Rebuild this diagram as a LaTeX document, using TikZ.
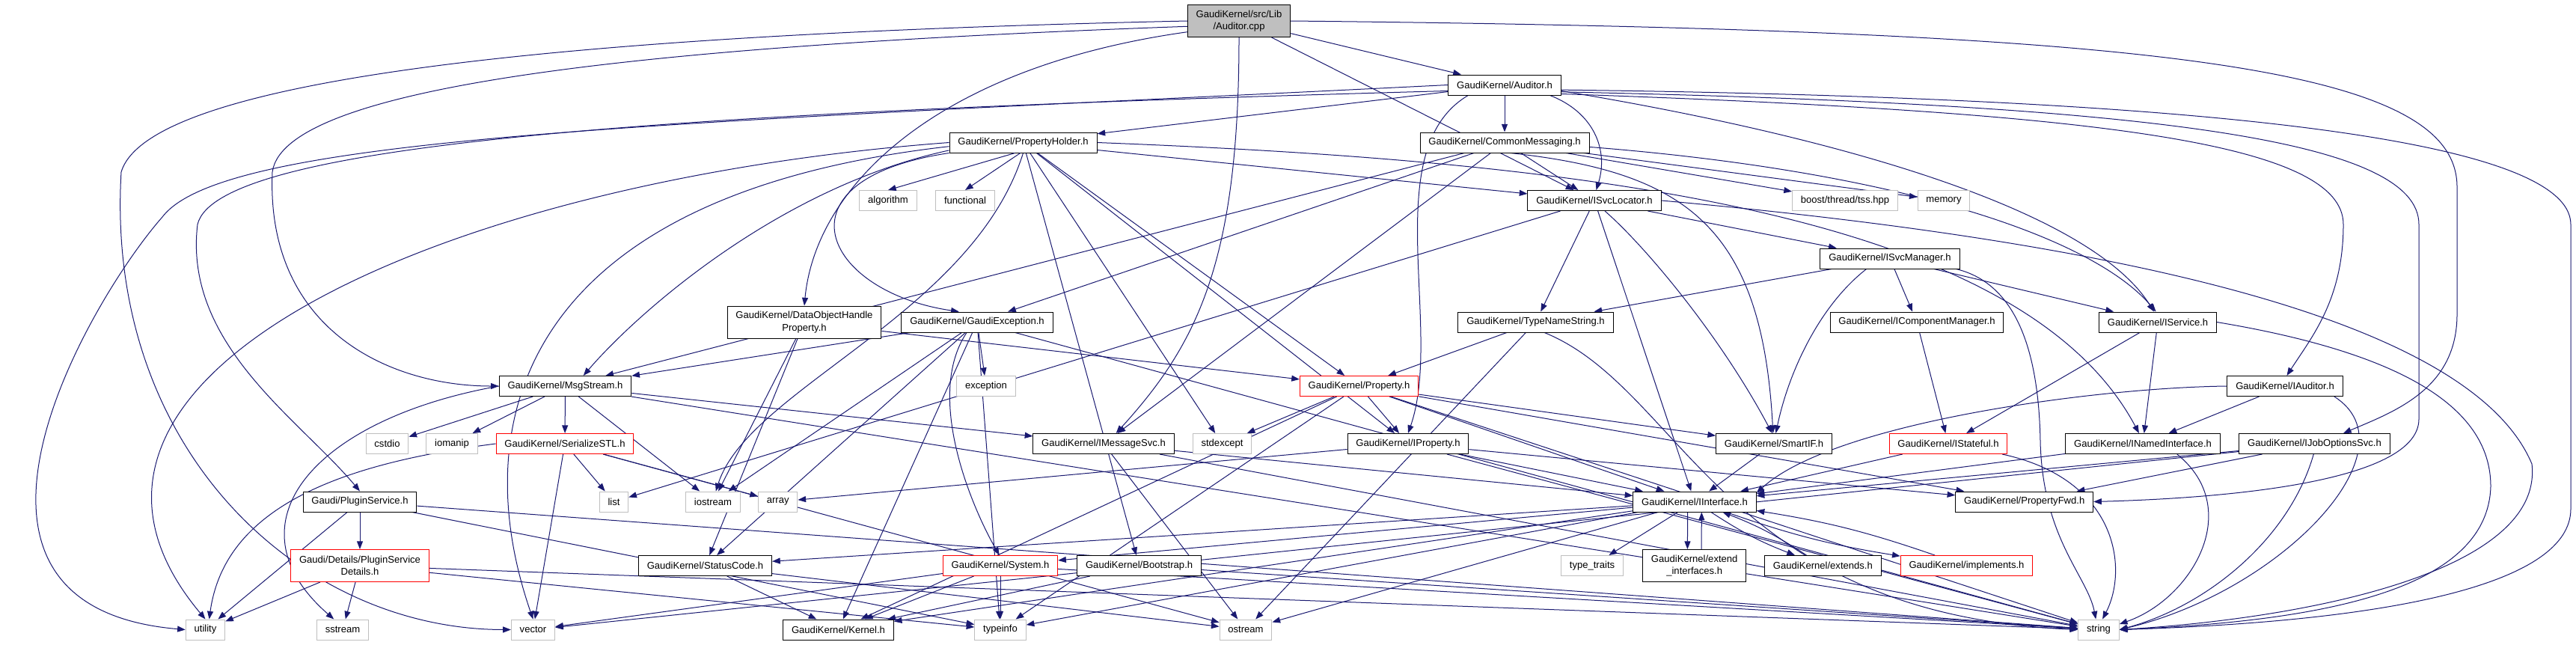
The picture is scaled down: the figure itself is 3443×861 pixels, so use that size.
\documentclass[tikz,border=0pt]{standalone}
\usepackage{fontspec}
\setmainfont{Liberation Sans}
\usetikzlibrary{arrows.meta}
\pgfdeclarelayer{background}
\pgfsetlayers{background,main}

\definecolor{edgeblue}{HTML}{191970}
\definecolor{sysgray}{HTML}{BFBFBF}
\definecolor{trunred}{HTML}{FF0000}
\newcommand{\doxyfont}{\fontsize{9.8pt}{12.2pt}\selectfont}

\tikzset{
  hdr/.style={draw=black, fill=white, font=\doxyfont, inner xsep=8.5pt, inner ysep=2pt,
    minimum height=20.25pt, align=center, line width=0.75pt},
  syshdr/.style={hdr, draw=sysgray},
  redhdr/.style={hdr, draw=trunred},
  roothdr/.style={hdr, fill=sysgray},
  twoline/.style={minimum height=32.25pt},
  incl/.style={->, draw=edgeblue, line width=0.75pt}
}

\begin{document}
\begin{tikzpicture}[x=0.75pt, y=-0.75pt, >={Triangle[length=8pt,width=6pt]}]
\useasboundingbox (0,0) rectangle (3443,861);

% rows of headers, top to bottom
\node [roothdr, twoline] (root) at (1656,28) {GaudiKernel/src/Lib\\/Auditor.cpp};
\node [hdr] (aud) at (2011,113.5) {GaudiKernel/Auditor.h};
\node [hdr] (ph) at (1367.5,190.5) {GaudiKernel/PropertyHolder.h};
\node [hdr] (cm) at (2011,190.5) {GaudiKernel/CommonMessaging.h};
\node [hdr] (isl) at (2131,268) {GaudiKernel/ISvcLocator.h};
\node [syshdr] (algo) at (1187,268) {algorithm};
\node [syshdr] (func) at (1290,268) {functional};
\node [syshdr] (tss) at (2466,268) {boost/thread/tss.hpp};
\node [syshdr] (mem) at (2598,268) {memory};
\node [hdr] (ism) at (2526,345.5) {GaudiKernel/ISvcManager.h};
\node [hdr, twoline] (dohp) at (1075,430.5) {GaudiKernel/DataObjectHandle\\Property.h};
\node [hdr] (gex) at (1306,430.5) {GaudiKernel/GaudiException.h};
\node [hdr] (tns) at (2052.5,430.5) {GaudiKernel/TypeNameString.h};
\node [hdr] (icm) at (2562,430.5) {GaudiKernel/IComponentManager.h};
\node [hdr] (isv) at (2884,430.5) {GaudiKernel/IService.h};
\node [hdr] (msg) at (755.5,516) {GaudiKernel/MsgStream.h};
\node [syshdr] (exc) at (1318,516) {exception};
\node [redhdr] (prop) at (1816.5,516) {GaudiKernel/Property.h};
\node [hdr] (iaud) at (3054,516) {GaudiKernel/IAuditor.h};
\node [syshdr] (cstdio) at (517.5,593) {cstdio};
\node [syshdr] (iomanip) at (604,593) {iomanip};
\node [redhdr] (sstl) at (755,593) {GaudiKernel/SerializeSTL.h};
\node [hdr] (imsg) at (1475,593) {GaudiKernel/IMessageSvc.h};
\node [syshdr] (stdexc) at (1633.5,593) {stdexcept};
\node [hdr] (iprop) at (1882,593) {GaudiKernel/IProperty.h};
\node [hdr] (smart) at (2371,593) {GaudiKernel/SmartIF.h};
\node [redhdr] (istate) at (2604,593) {GaudiKernel/IStateful.h};
\node [hdr] (inamed) at (2864,593) {GaudiKernel/INamedInterface.h};
\node [hdr] (ijos) at (3093.5,593) {GaudiKernel/IJobOptionsSvc.h};
\node [hdr] (plug) at (481,670.5) {Gaudi/PluginService.h};
\node [syshdr] (list) at (820.5,670.5) {list};
\node [syshdr] (iostr) at (953,670.5) {iostream};
\node [syshdr] (array) at (1039.7,670.5) {array};
\node [hdr] (iint) at (2265,670.5) {GaudiKernel/IInterface.h};
\node [hdr] (pfwd) at (2705.7,670.5) {GaudiKernel/PropertyFwd.h};
\node [redhdr, twoline] (det) at (481,756) {Gaudi/Details/PluginService\\Details.h};
\node [hdr] (stc) at (942.5,756) {GaudiKernel/StatusCode.h};
\node [redhdr] (sys) at (1337,756) {GaudiKernel/System.h};
\node [hdr] (boot) at (1522.6,756) {GaudiKernel/Bootstrap.h};
\node [syshdr] (tt) at (2128,756) {type\_traits};
\node [hdr, twoline] (ext) at (2264.7,756) {GaudiKernel/extend\\\_interfaces.h};
\node [hdr] (exts) at (2436.4,756) {GaudiKernel/extends.h};
\node [redhdr] (impl) at (2628.5,756) {GaudiKernel/implements.h};
\node [syshdr] (util) at (274.5,841.5) {utility};
\node [syshdr] (sstr) at (458,841.5) {sstream};
\node [syshdr] (vec) at (712.5,841.5) {vector};
\node [hdr] (kern) at (1120.5,841.5) {GaudiKernel/Kernel.h};
\node [syshdr] (tinfo) at (1337,841.5) {typeinfo};
\node [syshdr] (ostr) at (1665,841.5) {ostream};
\node [syshdr] (str) at (2805,841.5) {string};

% the two short ones from PropertyHolder.h
\draw [incl] (ph.232) -- (algo.north);
\draw [incl] (ph.255) -- (func.north);

\begin{pgfonlayer}{background}
% plain includes
\foreach \p/\q in {root/aud, root/isl, aud/cm, aud/ph,
    ph/prop, ph/iprop, ph/isl, ph/boot, ph/stdexc,
    cm/isl, cm/imsg, cm/msg, cm/gex, cm/tss, cm/mem,
    isl/iint, isl/ism, isl/tns, isl/list,
    ism/icm, ism/isv, ism/tns, icm/istate, isv/istate, isv/inamed,
    tns/prop, tns/ostr, iaud/inamed, ijos/pfwd, ijos/iint, ijos/vec,
    inamed/iint, istate/iint, smart/iint,
    prop/iprop, prop/smart, prop/pfwd, prop/stdexc, prop/tinfo, prop/kern, prop/iint, prop/str,
    iprop/iint, iprop/pfwd, iprop/array, iprop/str,
    imsg/iint, imsg/ostr, imsg/str,
    msg/imsg, msg/sstl, msg/cstdio, msg/iomanip, msg/iostr, msg/str,
    gex/msg, gex/exc, gex/stc, gex/iostr, gex/tinfo, gex/kern, gex/str,
    dohp/prop, dohp/stc, dohp/iostr,
    sstl/list, sstl/vec, sstl/array, sstl/ostr,
    plug/det, plug/util, plug/tinfo, plug/str,
    det/util, det/sstr, det/tinfo, det/str,
    iint/tt, iint/kern, iint/stc, iint/sys, iint/ostr, iint/tinfo,
    sys/kern, sys/tinfo, sys/vec, sys/str,
    stc/kern, stc/ostr, boot/kern, boot/str}
  \draw [incl] (\p) -- (\q);

% round the left side
\draw [incl] (root.west) .. controls (800,45) and (200,100) .. (162,230)
  .. controls (140,600) and (400,841) .. (vec.west);
\draw [incl] (root.186) .. controls (900,60) and (380,110) .. (364,230)
  .. controls (355,440) and (520,516) .. (msg.west);
\draw [incl] (root.192) .. controls (1250,90) and (1090,250) .. (dohp.north);
\draw [incl] (aud.186) .. controls (900,150) and (290,190) .. (264,300)
  .. controls (245,460) and (400,560) .. (plug.north);
\draw [incl] (aud.west) .. controls (900,165) and (300,180) .. (217,290)
  .. controls (120,400) and (-120,810) .. (util.west);
\draw [incl] (ph.west) .. controls (600,240) and (0,500) .. (util.north);
\draw [incl] (ph.183) .. controls (700,260) and (620,560) .. (vec.north);
\draw [incl] (ph.186) .. controls (1040,250) and (850,420) .. (msg.30);
\draw [incl] (ph.south west) .. controls (1030,240) and (1100,390) .. (gex.150);
\draw [incl] (ph.south) .. controls (1300,420) and (1000,520) .. (iostr.75);
\draw [incl] (sstl.west) .. controls (450,620) and (300,680) .. (util.70);
\draw [incl] (msg.west) .. controls (420,560) and (300,700) .. (sstr.130);

% middle
\draw [incl] (root.south) .. controls (1656,350) and (1600,460) .. (imsg.40);
\draw [incl] (gex.225) .. controls (1235,530) and (1300,680) .. (sys.95);
\draw [incl] (aud.196) .. controls (1840,200) and (1930,440) .. (iprop.north);
\draw [incl] (aud.-13) .. controls (2130,150) and (2150,200) .. (isl.80);
\draw [incl] (aud.-6) .. controls (2500,190) and (2800,290) .. (isv.110);
\draw [incl] (cm.-3) .. controls (2550,230) and (2800,320) .. (isv.100);
\draw [incl] (ph.east) .. controls (2100,215) and (2700,280) .. (inamed.110);
\draw [incl] (cm.-60) .. controls (2250,230) and (2355,300) .. (smart.95);
\draw [incl] (isl.-45) .. controls (2200,330) and (2300,450) .. (smart.100);
\draw [incl] (ism.204) .. controls (2430,410) and (2390,500) .. (smart.80);
\draw [incl] (iaud.west) .. controls (2800,518) and (2450,565) .. (iint.8);
\draw [incl] (tns.-50) .. controls (2250,520) and (2300,820) .. (str.west);

% round the right side
\draw [incl] (root.east) .. controls (2900,40) and (3284,90) .. (3284,250) -- (3284,420)
  .. controls (3284,520) and (3200,550) .. (ijos.20);
\draw [incl] (aud.-9) .. controls (2800,150) and (3132,190) .. (3132,300)
  .. controls (3132,400) and (3090,450) .. (iaud.80);
\draw [incl] (aud.-7) .. controls (2900,140) and (3233,190) .. (3233,300) -- (3233,560)
  .. controls (3233,640) and (3000,665) .. (pfwd.east);
\draw [incl] (aud.-5) .. controls (2900,130) and (3436,180) .. (3436,300) -- (3436,680)
  .. controls (3436,780) and (3200,830) .. (str.east);
\draw [incl] (isl.east) .. controls (2800,320) and (3300,420) .. (3384,620)
  .. controls (3400,760) and (3100,825) .. (str.east);
\draw [incl] (isv.east) .. controls (3200,470) and (3329,540) .. (3329,650)
  .. controls (3325,790) and (3100,830) .. (str.east);
\draw [incl] (ism.-9) .. controls (2700,380) and (2725,480) .. (2727,590)
  .. controls (2730,720) and (2790,770) .. (str.105);
\draw [incl] (iaud.-12) .. controls (3230,600) and (3050,790) .. (str.east);
\draw [incl] (ijos.-95) .. controls (3060,720) and (2950,810) .. (str.east);
\draw [incl] (inamed.-17) .. controls (3000,680) and (2930,800) .. (str.15);
\draw [incl] (istate.-11) .. controls (2830,640) and (2845,760) .. (str.70);

% IInterface and its helpers include each other
\draw [incl] ([xshift=-7pt]iint.south) -- ([xshift=-7pt]ext.north);
\draw [incl] ([xshift=7pt]ext.north) -- ([xshift=7pt]iint.south);
\draw [incl] (iint) to[bend right=6] (exts);
\draw [incl] (exts) to[bend right=6] (iint);
\draw [incl] (iint) to[bend right=5] (impl);
\draw [incl] (impl) to[bend right=5] (iint);
\end{pgfonlayer}

\end{tikzpicture}
\end{document}
